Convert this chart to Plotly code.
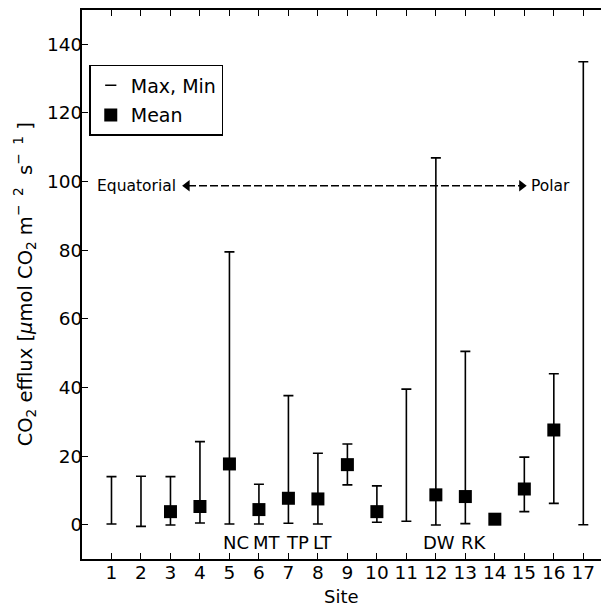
import plotly.graph_objects as go

# ---- data ----
sites = list(range(1, 18))
mean_vals = [None, None, 3.8, 5.3, 17.7, 4.4, 7.7, 7.5, 17.5, 3.8, None, 8.7, 8.2, 1.6, 10.4, 27.6, None]
max_vals = [14.0, 14.1, 14.0, 24.2, 79.5, 11.8, 37.6, 20.8, 23.5, 11.3, 39.5, 106.9, 50.5, None, 19.7, 44.0, 134.9]
min_vals = [0.2, -0.5, -0.1, 0.5, 0.2, 0.2, 0.4, 0.2, 11.6, 0.7, 1.0, -0.1, 0.3, None, 3.8, 6.2, 0.0]
site_codes = ["NC", "MT", "TP", "LT", "DW", "RK"]
code_sites = [5.22, 6.28, 7.32, 8.18, 12.1, 13.28]
y_ticks = [0, 20, 40, 60, 80, 100, 120, 140]

FONT = "DejaVu Sans"

# whiskers: midpoint with symmetric error spanning min..max
wx, wmid, werr = [], [], []
for s, hi, lo in zip(sites, max_vals, min_vals):
    if hi is None or lo is None:
        continue
    wx.append(s)
    wmid.append((hi + lo) / 2)
    werr.append((hi - lo) / 2)

fig = go.Figure()
fig.add_trace(go.Scatter(
    x=wx, y=wmid, mode="markers", marker=dict(size=1, opacity=0),
    error_y=dict(type="data", array=werr, symmetric=True, color="black", thickness=1.6, width=5),
    showlegend=False, hoverinfo="skip"))

# legend proxy for Max, Min
fig.add_trace(go.Scatter(
    x=[None], y=[None], mode="markers", name="Max, Min", legendgroup="a",
    marker=dict(symbol="line-ew", size=8, color="black", line=dict(color="black", width=1.6))))

mx = [s for s, m in zip(sites, mean_vals) if m is not None]
my = [m for m in mean_vals if m is not None]
fig.add_trace(go.Scatter(
    x=mx, y=my, mode="markers", name="Mean", legendgroup="b",
    marker=dict(symbol="square", size=13, color="black", line=dict(width=0))))

# Equatorial <-> Polar dashed arrow
arrow_y = 98.8
left_tip, right_tip = 3.395, 15.08
fig.add_shape(type="line", x0=left_tip + 0.2, x1=right_tip - 0.2, y0=arrow_y, y1=arrow_y,
              line=dict(color="black", width=1.6, dash="8px,3px"))
fig.add_trace(go.Scatter(
    x=[left_tip + 0.17, right_tip - 0.17], y=[arrow_y, arrow_y], mode="markers",
    marker=dict(symbol=["triangle-left", "triangle-right"], size=10, color="black"),
    showlegend=False, hoverinfo="skip"))

annotations = [
    dict(x=left_tip - 0.14, y=arrow_y, xref="x", yref="y", text="Equatorial", showarrow=False,
         xanchor="right", yanchor="middle", font=dict(family=FONT, size=15.5, color="black")),
    dict(x=right_tip + 0.09, y=arrow_y, xref="x", yref="y", text="Polar", showarrow=False,
         xanchor="left", yanchor="middle", font=dict(family=FONT, size=15.5, color="black")),
]
for code, xs in zip(site_codes, code_sites):
    annotations.append(dict(x=xs, y=-5.1, xref="x", yref="y", text=code, showarrow=False,
                            xanchor="center", yanchor="middle",
                            font=dict(family=FONT, size=18, color="black")))

# axis titles
annotations.append(dict(x=0.5, y=-0.068, xref="paper", yref="paper", text="Site",
                        showarrow=False, xanchor="center", yanchor="middle",
                        font=dict(family=FONT, size=18, color="black")))
annotations.append(dict(x=-0.112, y=0.5, xref="paper", yref="paper",
                        text="CO<sub>2</sub> efflux [<i>μ</i>mol CO<sub>2</sub> m<sup>−  2</sup>  s<sup>−  1</sup> ]",
                        textangle=-90, showarrow=False, xanchor="center", yanchor="middle",
                        font=dict(family=FONT, size=19.5, color="black")))

fig.update_layout(
    width=601, height=608,
    margin=dict(l=82, r=0, t=10, b=49),
    paper_bgcolor="white", plot_bgcolor="white",
    font=dict(family=FONT, size=18, color="black"),
    showlegend=True,
    legend=dict(x=0.014, y=0.9, xanchor="left", yanchor="top",
                bordercolor="black", borderwidth=1.5, bgcolor="white",
                font=dict(family=FONT, size=19, color="black"),
                traceorder="grouped", tracegroupgap=2),
    annotations=annotations,
)
fig.update_xaxes(range=[0, 17.6], tickvals=sites, ticks="inside", ticklen=6, tickwidth=1.2,
                 tickcolor="black", showline=True, linecolor="black", linewidth=1.8,
                 mirror="ticks", showgrid=False, zeroline=False,
                 tickfont=dict(family=FONT, size=18.5, color="black"), ticklabelstandoff=-4)
fig.update_yaxes(range=[-10, 150], tickvals=y_ticks, ticks="inside", ticklen=6, tickwidth=1.2,
                 tickcolor="black", showline=True, linecolor="black", linewidth=1.8,
                 mirror=False, showgrid=False, zeroline=False,
                 tickfont=dict(family=FONT, size=18.5, color="black"), ticklabelstandoff=-6)

fig.write_html("out.html")
